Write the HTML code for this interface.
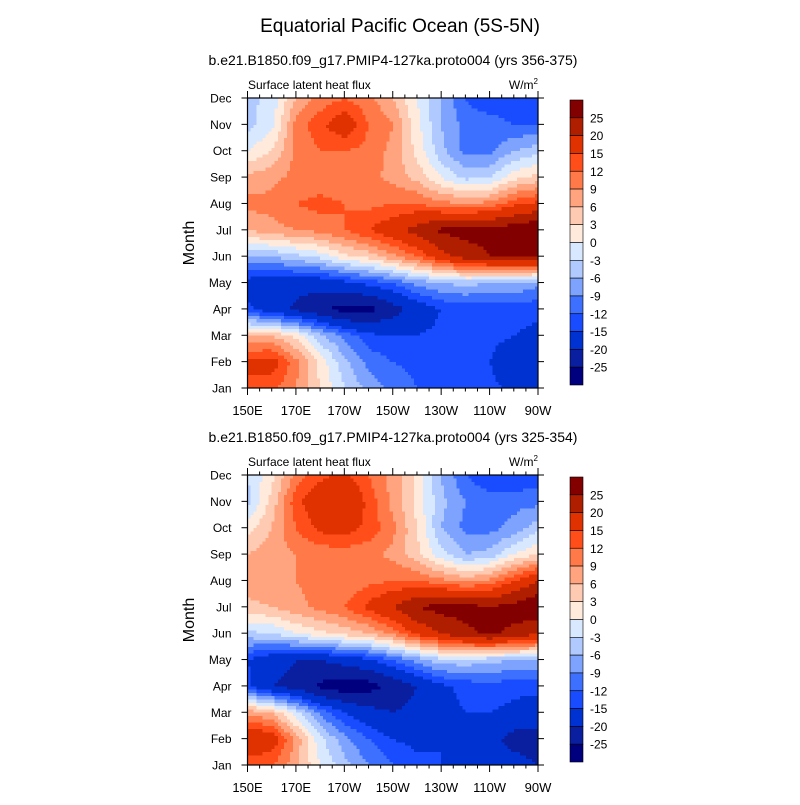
<!DOCTYPE html>
<html><head><meta charset="utf-8"><style>
body{margin:0;background:#fff;}
svg text{font-family:"Liberation Sans",sans-serif;fill:#000;}
</style></head><body>
<svg id="chart" width="800" height="800" viewBox="0 0 800 800" xmlns="http://www.w3.org/2000/svg">
<text x="400" y="32" font-size="19" text-anchor="middle">Equatorial Pacific Ocean (5S-5N)</text>
</svg>
<script>
const levels=[-25,-20,-15,-12,-9,-6,-3,0,3,6,9,12,15,20,25];
const colors=['#00007f','#0a1ea0','#0032d2','#1a4cff','#3d70ff','#7ea3ff','#b0caff','#d8e8ff','#ffeadb','#ffcab2','#ffa47e','#ff7a48','#ff4e1a','#e03200','#b01e00','#820000'];
const monthLabels=['Jan','Feb','Mar','Apr','May','Jun','Jul','Aug','Sep','Oct','Nov','Dec'];
const lons=[150,160,170,180,190,200,210,220,230,240,250,260,270];
const lonTickLabels=['150E','170E','170W','150W','130W','110W','90W'];
const lonTicks=[150,170,190,210,230,250,270];
const cbLabels=['25','20','15','12','9','6','3','0','-3','-6','-9','-12','-15','-20','-25'];
const titles=['b.e21.B1850.f09_g17.PMIP4-127ka.proto004 (yrs 356-375)','b.e21.B1850.f09_g17.PMIP4-127ka.proto004 (yrs 325-354)'];
const fluxTop=[
[14,13,9,3,-3,-7,-10,-12,-13,-13,-14,-16,-18],
[16,17,10,2,-5,-10,-12,-13,-13,-13,-15,-18,-20],
[6,6,2,-5,-10,-14,-15,-15,-14,-14,-14,-15,-16],
[-14,-18,-21,-24,-27,-27,-22,-18,-15,-14,-14,-14,-14],
[-17,-18,-18,-18,-16,-14,-12,-8,-6,-5,-6,-6,-8],
[-6,-6,-4,-2,2,4,8,12,18,22,25,26,26],
[6,8,9,10,12,15,18,22,26,27,27,28,30],
[10,10,12,13,12,11,12,12,10,9,10,14,16],
[7,8,10,10,9,10,8,5,0,-4,-3,2,4],
[0,3,10,12,12,11,8,2,-5,-10,-10,-6,-4],
[-4,-1,10,14,18,12,9,1,-6,-10,-10,-12,-12],
[-4,-2,6,10,12,10,6,0,-6,-12,-15,-15,-14]];
const fluxBottom=[
[12,12,7,0,-5,-9,-12,-14,-15,-15,-16,-18,-20],
[20,18,8,-2,-8,-12,-15,-16,-15,-16,-18,-22,-22],
[8,6,-2,-10,-15,-18,-20,-18,-16,-15,-15,-16,-17],
[-14,-20,-22,-26,-28,-27,-24,-20,-16,-14,-13,-14,-14],
[-15,-18,-20,-20,-18,-16,-12,-8,-4,-4,-5,-6,-6],
[-4,-3,0,2,4,6,10,16,20,24,26,24,20],
[5,6,8,10,12,16,20,25,27,27,25,27,30],
[8,8,9,10,10,11,12,12,10,8,10,15,20],
[6,8,9,10,10,10,8,4,-2,-6,-5,0,3],
[2,6,12,16,17,14,10,3,-6,-10,-10,-8,-4],
[-4,4,14,18,20,14,8,2,-5,-9,-10,-10,-10],
[-3,2,10,14,16,12,8,2,-6,-12,-15,-15,-14]];

const NS='http://www.w3.org/2000/svg';
const svg=document.getElementById('chart');
function mk(tag,attrs,parent){const e=document.createElementNS(NS,tag);for(const k in attrs)e.setAttribute(k,attrs[k]);(parent||svg).appendChild(e);return e;}
function colorFor(v){let i=0;while(i<levels.length&&v>=levels[i])i++;return colors[i];}
const X0=247.5,X1=538;
function xs(lon){return X0+(lon-150)/120*(X1-X0);}

function panel(data,top,title,idx){
  const bottom=top+290;
  const ys=m=>bottom-m/11*290;
  const g=mk('g',{});
  
  
  const t=mk('text',{x:393,y:top-33,'font-size':14,'text-anchor':'middle'},g);t.textContent=title;
  
  const l=mk('text',{x:248,y:top-9,'font-size':12},g);l.textContent='Surface latent heat flux';
  
  const u=mk('text',{x:538,y:top-9,'font-size':12,'text-anchor':'end'},g);u.innerHTML='W/m<tspan font-size="8" dy="-5">2</tspan>';
  
  const field=mk('g',{'shape-rendering':'crispEdges'},g);
  
  const S=8;
  for(let m=0;m<data.length-1;m++)for(let j=0;j<lons.length-1;j++){
    const xa=xs(lons[j]),xb=xs(lons[j+1]),ya=ys(m),yb=ys(m+1);
    for(let a=0;a<S;a++)for(let b=0;b<S;b++){
      const fx=(a+0.5)/S,fy=(b+0.5)/S;
      const v=data[m][j]*(1-fx)*(1-fy)+data[m][j+1]*fx*(1-fy)+data[m+1][j]*(1-fx)*fy+data[m+1][j+1]*fx*fy;
      const w=(xb-xa)/S,h=(ya-yb)/S;
      mk('rect',{x:(xa+a*w).toFixed(2),y:(ya-(b+1)*h).toFixed(2),width:(w+0.4).toFixed(2),height:(h+0.4).toFixed(2),fill:colorFor(v)},field);
    }
  }
  const fr=mk('rect',{x:X0,y:top,width:X1-X0,height:290,fill:'none',stroke:'#000','stroke-width':1.2},g);
  
  monthLabels.forEach((mn,m)=>{
    const y=ys(m);
    mk('line',{x1:X0-6,x2:X0,y1:y,y2:y,stroke:'#000'},g);
    mk('line',{x1:X1,x2:X1+6,y1:y,y2:y,stroke:'#000'},g);
    const tx=mk('text',{x:X0-16,y:y+4.5,'font-size':12,'text-anchor':'end'},g);tx.textContent=mn;
    
  });
  for(let lon=150;lon<=270;lon+=5){
    const x=xs(lon),maj=lonTicks.includes(lon);
    mk('line',{x1:x,x2:x,y1:bottom,y2:bottom+(maj?7:3.5),stroke:'#000'},g);
    mk('line',{x1:x,x2:x,y1:top,y2:top-(maj?7:3.5),stroke:'#000'},g);
  }
  lonTicks.forEach((lon,i)=>{
    const tx=mk('text',{x:xs(lon),y:bottom+27,'font-size':13,'text-anchor':'middle'},g);tx.textContent=lonTickLabels[i];
    
  });
  const yt=mk('text',{x:194,y:top+145,'font-size':16,'text-anchor':'middle',transform:`rotate(-90 194 ${top+145})`},g);yt.textContent='Month';
  
  const cb=mk('g',{},g);
  
  const ct=top+2,ch=285,bh=ch/16;
  for(let i=0;i<16;i++){
    mk('rect',{x:570,y:ct+i*bh,width:13,height:bh,fill:colors[15-i],stroke:'#000','stroke-width':0.6},cb);
  }
  cbLabels.forEach((s,i)=>{
    const tx=mk('text',{x:590,y:ct+(i+1)*bh+4.5,'font-size':12},cb);tx.textContent=s;
    
  });
}
panel(fluxTop,98,titles[0],0);
panel(fluxBottom,475,titles[1],1);
</script>
</body></html>
